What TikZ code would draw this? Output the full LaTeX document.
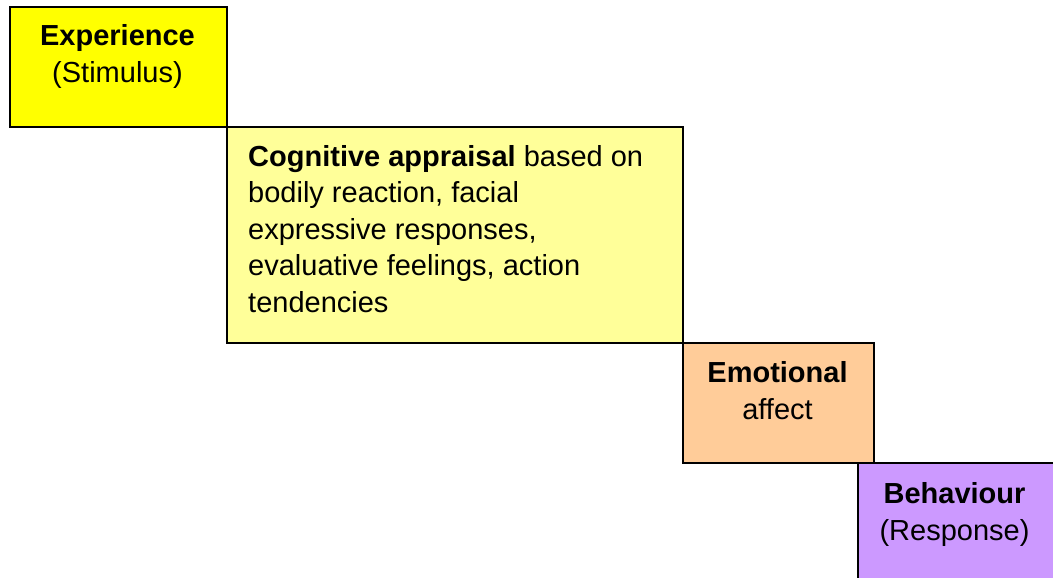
\documentclass[tikz,border=0pt]{standalone}
\usepackage{fontspec}
\setmainfont{Liberation Sans}
\begin{document}
\begin{tikzpicture}[x=1pt,y=-1pt,
  stage/.style={draw=black, line width=2.2pt, anchor=north west, inner sep=0pt},
  label/.style={inner sep=0pt, font=\fontsize{29}{36.6}\selectfont},
]
\definecolor{stimyellow}{HTML}{FFFF00}
\definecolor{paleyellow}{HTML}{FFFF99}
\definecolor{peach}{HTML}{FFCC99}
\definecolor{lilac}{HTML}{CC99FF}
\useasboundingbox (0,0) rectangle (1053,578);
\clip (0,0) rectangle (1053,578);
% staircase of stages
\node[stage, fill=stimyellow, minimum width=217pt, minimum height=120pt] (exp) at (9,6) {};
\node[stage, fill=paleyellow, minimum width=456pt, minimum height=216pt] (cog) at (226,126) {};
\node[stage, fill=peach, minimum width=191pt, minimum height=120pt] (emo) at (682,342) {};
\node[stage, fill=lilac, minimum width=220pt, minimum height=140pt] (beh) at (857,462) {};
% texts, placed by the baseline of their last line
\node[label, anchor=base, align=center] (expt) at (117.5,82) {\textbf{Experience}\\(Stimulus)};
\node[label, anchor=base west, align=left] (cogt) at (248,312.5) {\textbf{Cognitive appraisal} based on\\bodily reaction, facial\\expressive responses,\\evaluative feelings, action\\tendencies};
\node[label, anchor=base, align=center] (emot) at (777.5,419) {\textbf{Emotional}\\affect};
\node[label, anchor=base, align=center] (beht) at (954.5,540) {\textbf{Behaviour}\\(Response)};
\end{tikzpicture}
\end{document}
